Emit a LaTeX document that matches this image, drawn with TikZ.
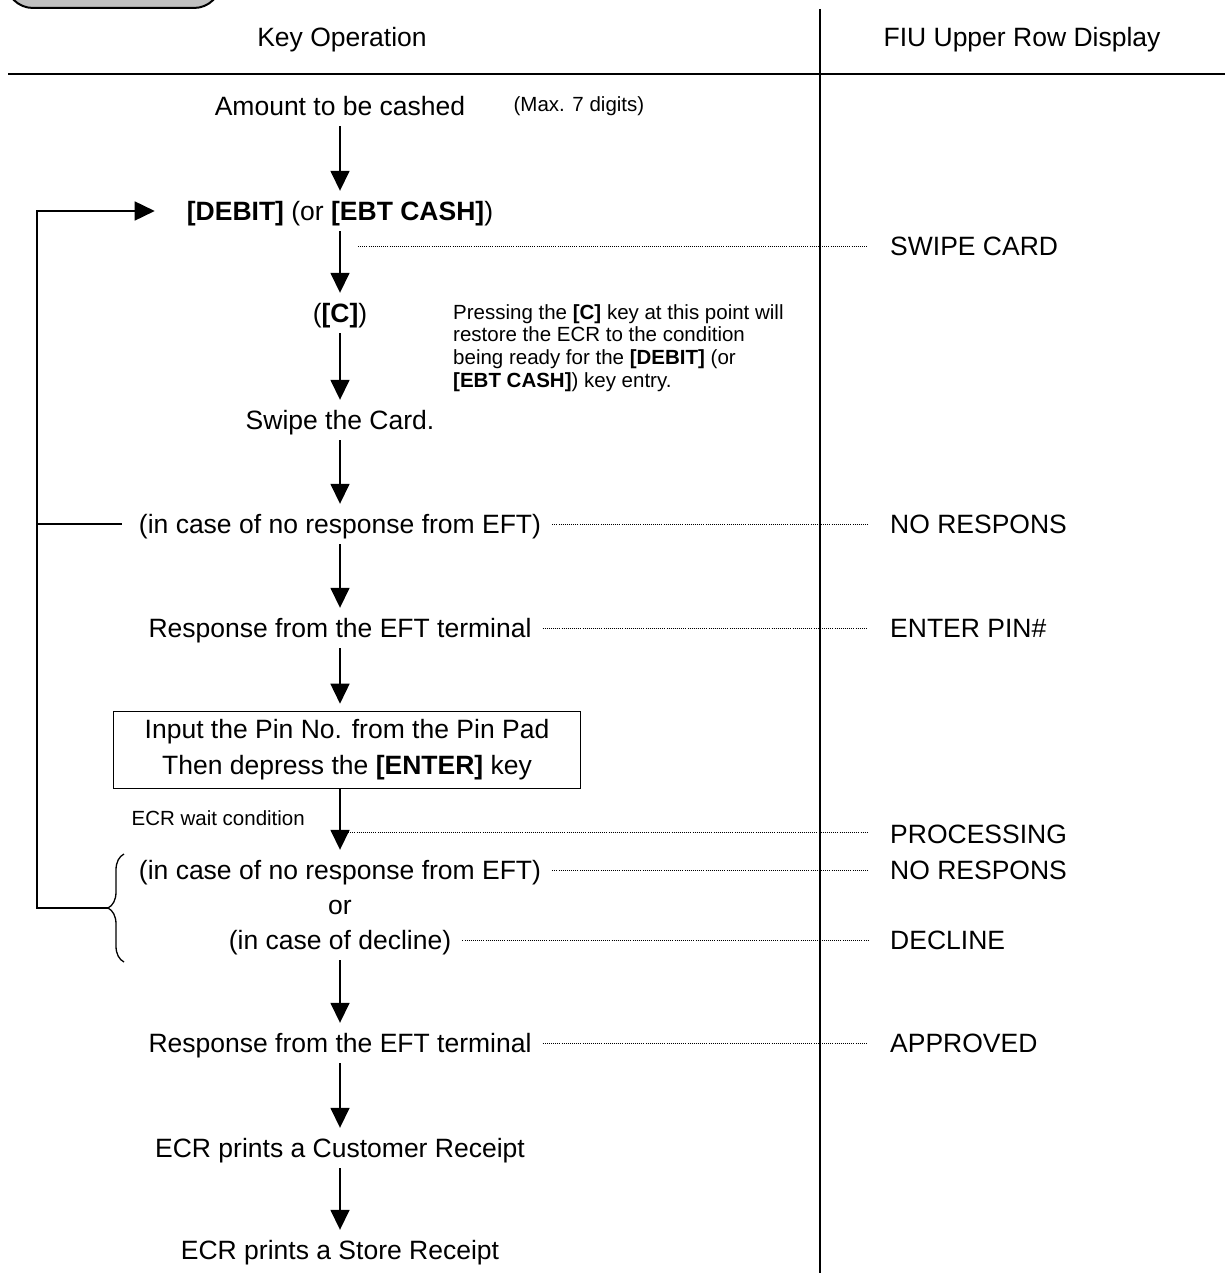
\documentclass[tikz,border=0pt]{standalone}
\usepackage{fontspec}
\setmainfont{Liberation Sans}
\usetikzlibrary{arrows.meta,positioning,decorations.pathreplacing}
\definecolor{tabgray}{RGB}{192,192,192}

\begin{document}
\begin{tikzpicture}[x=1pt,y=-1pt,
  txt/.style={inner sep=0pt,text height=22pt,text depth=3pt,minimum height=40pt,font=\fontsize{26.5}{32}\selectfont},
  small/.style={inner sep=0pt,align=left,font=\fontsize{20.5}{22.7}\selectfont},
  disp/.style={txt,anchor=west},
  flow/.style={line width=1.6pt,-{Triangle[length=20pt,width=19pt]}},
  dots/.style={line width=0.9pt,dash pattern=on 0.9pt off 1.2pt,shorten >=22pt}]
   \useasboundingbox (0,0) rectangle (1225,1273);
   \begin{scope}
     \clip (0,0) rectangle (1225,1273);
     \draw[line width=2pt,fill=tabgray,rounded corners=27pt] (6,-40) rectangle (221,8);
   \end{scope}
   \draw[line width=2.6pt] (8,74) -- (1225,74);
   \draw[line width=2.6pt] (820,9) -- (820,1273);
   \node[txt] (keyop) at (342,37) {Key Operation};
   \node[txt] (fiu) at (1022,37) {FIU Upper Row Display};

   \node[txt] (amt) at (340,106) {Amount to be cashed};
   \node[small,right=48pt of amt] (maxdig) {(Max. 7 digits)};
   \node[txt] (debit) at (340,211) {\textbf{[DEBIT]} (or \textbf{[EBT CASH]})};
   \node[txt] (ckey) at (340,313) {(\textbf{[C]})};
   \node[small,anchor=north west] (note) at (453,304) {Pressing the \textbf{[C]} key at this point will\\restore the ECR to the condition\\being ready for the \textbf{[DEBIT]} (or\\\textbf{[EBT CASH]}) key entry.};
   \node[txt] (swipe) at (340,420) {Swipe the Card.};
   \node[txt] (nr1) at (340,524) {(in case of no response from EFT)};
   \node[txt] (resp1) at (340,628) {Response from the EFT terminal};
   \node[draw,line width=1.6pt,inner sep=0pt,minimum width=467pt,minimum height=77pt,align=center,font=\fontsize{26.5}{36}\selectfont] (pin) at (347,750) {Input the Pin No. from the Pin Pad\\Then depress the \textbf{[ENTER]} key};
   \node[small,anchor=east] (wait) at (305,818) {ECR wait condition};
   \node[txt] (nr2) at (340,870) {(in case of no response from EFT)};
   \node[txt] (or) at (340,905) {or};
   \node[txt] (decl) at (340,940) {(in case of decline)};
   \node[txt] (resp2) at (340,1043) {Response from the EFT terminal};
   \node[txt] (cust) at (340,1148) {ECR prints a Customer Receipt};
   \node[txt] (store) at (340,1250) {ECR prints a Store Receipt};

   \node[disp] (dswipe) at (890,246) {SWIPE CARD};
   \node[disp] (dnr1) at (890,524) {NO RESPONS};
   \node[disp] (dpin) at (890,628) {ENTER PIN\#};
   \node[disp] (dproc) at (890,834) {PROCESSING};
   \node[disp] (dnr2) at (890,870) {NO RESPONS};
   \node[disp] (ddecl) at (890,940) {DECLINE};
   \node[disp] (dappr) at (890,1043) {APPROVED};

   \draw[flow] (amt) edge (debit)
     (debit) edge (ckey)
     (ckey) edge (swipe)
     (swipe) edge (nr1)
     (nr1) edge (resp1)
     (decl) edge (resp2)
     (resp2) edge (cust)
     (cust) edge (store);
   \draw[flow,shorten >=7pt] (resp1) -- (resp1 |- pin.north);
   \draw[flow] (nr2 |- pin.south) -- (nr2);

   \coordinate (tapswipe) at (358,246);
   \coordinate (tapproc) at (346,832);
   \draw[dots] (tapswipe) -- (dswipe.west);
   \draw[dots] (tapproc) -- (tapproc -| dproc.west);
   \draw[dots,shorten <=11pt] (nr1.east) -- (dnr1.west);
   \draw[dots,shorten <=11pt] (resp1.east) -- (dpin.west);
   \draw[dots,shorten <=11pt] (nr2.east) -- (dnr2.west);
   \draw[dots,shorten <=11pt] (decl.east) -- (ddecl.west);
   \draw[dots,shorten <=11pt] (resp2.east) -- (dappr.west);

   \coordinate (looptop) at (37,211);
   \coordinate (loopbot) at (37,908);
   \coordinate (brtop) at (124,854);
   \coordinate (brbot) at (124,962);
   \coordinate (brtip) at (108,908);
   \draw[line width=1.3pt,decorate,decoration={brace,amplitude=16pt}] (brbot) -- (brtop);
   \draw[flow,shorten >=32pt] (brtip) -- (loopbot) -- (looptop) -- (debit.west);
   \draw[line width=1.6pt,shorten <=17pt] (nr1.west) -- (nr1.west -| looptop);
\end{tikzpicture}
\end{document}
